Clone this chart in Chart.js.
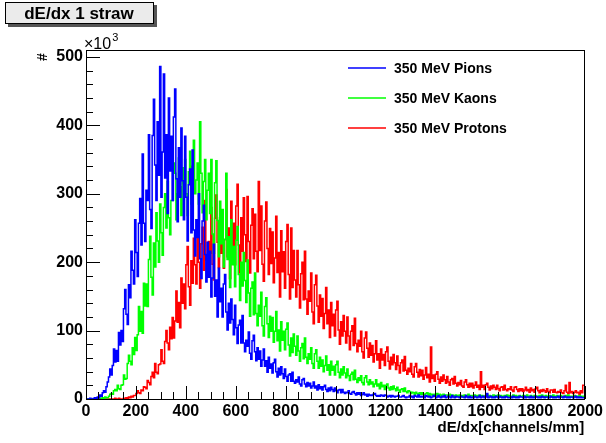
<!DOCTYPE html>
<html>
<head>
<meta charset="utf-8">
<script src="https://cdn.jsdelivr.net/npm/chart.js@4.4.1/dist/chart.umd.min.js"></script>
<style>
  html, body { margin: 0; padding: 0; background: #ffffff; }
  #wrap { width: 606px; height: 443px; position: relative; }
</style>
</head>
<body>
<div id="wrap"><canvas id="c" width="606" height="443"></canvas></div>
<script>
// ---- data (counts in units of 10^3), bins of width 5 from 0 to 2000 ----
const binWidth = 5;
const seriesNames = ["350 MeV Pions", "350 MeV Kaons", "350 MeV Protons"];
const seriesColors = ["#0000ff", "#00ff00", "#ff0000"];
const pions = [
  0,0,0,0,1,0,0,1,2,1,
  3,2,6,4,9,12,10,18,25,32,
  44,35,49,73,54,71,55,97,79,100,
  84,132,160,124,109,167,148,216,188,168,
  262,214,179,257,293,225,358,257,230,305,
  290,386,277,249,385,438,342,290,405,327,
  486,295,361,475,323,386,271,440,333,384,
  290,412,453,322,259,367,295,396,319,262,
  384,295,231,313,336,243,364,247,209,262,
  236,300,205,176,260,283,211,171,229,178,
  216,149,177,226,150,174,120,191,142,162,
  120,168,182,127,101,140,111,146,116,94,
  137,104,81,108,115,82,122,82,69,86,
  77,98,67,58,85,93,69,56,75,58,
  70,48,57,73,48,56,39,61,45,51,
  38,53,58,40,32,45,35,47,37,30,
  44,33,26,35,37,26,39,26,23,28,
  25,32,22,19,28,30,22,18,24,19,
  23,16,19,25,16,19,13,21,15,18,
  13,18,20,14,11,16,12,17,14,11,
  16,12,9,13,14,9,14,10,8,10,
  9,12,8,7,10,11,8,6,9,7,
  9,5,7,9,6,7,4,7,5,6,
  5,7,8,5,4,5,4,6,5,4,
  6,5,3,4,5,3,5,4,3,4,
  4,5,3,3,4,5,3,2,3,3,
  5,3,4,2,5,4,3,6,3,4,
  3,4,2,5,4,3,4,2,3,5,
  4,2,3,5,3,2,4,3,5,2,
  3,4,3,2,5,3,2,4,3,3,
  2,4,3,3,2,5,3,2,4,2,
  3,2,4,3,2,3,5,2,3,4,
  2,3,8,2,3,4,2,3,2,4,
  3,2,4,3,2,3,2,4,3,2,
  2,3,2,4,3,2,3,2,4,3,
  3,2,4,2,3,3,2,4,2,3,
  2,4,3,2,3,2,4,3,2,3,
  3,2,2,4,3,2,3,2,3,4,
  2,3,3,2,4,3,2,3,2,3,
  3,2,3,4,2,3,2,3,2,2
];
const kaons = [
  0,0,0,0,0,0,0,0,0,0,
  0,1,0,1,2,1,3,2,2,4,
  7,8,7,12,14,12,20,15,14,20,
  21,35,29,30,52,64,55,50,75,65,
  90,71,94,135,99,128,96,169,136,168,
  135,204,238,178,152,228,193,272,231,200,
  285,243,210,280,300,250,318,265,240,290,
  290,345,330,262,300,352,310,268,338,315,
  350,300,268,332,362,285,340,378,300,320,
  345,285,405,330,272,318,350,262,305,330,
  271,350,241,213,316,348,261,208,289,227,
  277,193,233,330,204,237,163,262,196,223,
  164,232,252,182,144,200,165,214,173,141,
  203,155,121,162,171,123,184,125,107,137,
  121,156,107,92,135,148,110,90,121,99,
  119,83,99,128,85,101,70,113,86,99,
  72,102,111,79,63,89,68,95,77,64,
  92,70,55,75,81,59,89,61,52,66,
  58,75,52,45,66,72,55,45,61,48,
  57,40,49,63,42,50,35,55,42,48,
  35,50,55,39,31,44,35,47,38,31,
  44,34,27,36,39,28,42,29,24,31,
  27,34,24,21,31,34,25,21,28,22,
  25,18,22,28,19,22,15,24,18,20,
  14,20,22,16,13,18,14,19,15,12,
  17,13,10,14,15,11,16,11,9,12,
  11,8,10,9,7,10,8,6,9,7,
  9,7,6,8,9,5,8,6,7,6,
  7,5,8,6,7,4,6,7,5,6,
  6,5,7,4,6,5,4,6,5,4,
  6,4,5,3,6,5,4,7,4,5,
  5,3,6,4,5,4,6,3,5,4,
  4,5,6,3,5,4,3,6,4,5,
  4,6,3,5,4,3,5,4,6,3,
  5,3,4,6,3,5,4,3,5,4,
  4,5,3,4,6,3,4,5,3,4,
  5,3,4,3,5,4,6,3,4,5,
  3,4,5,3,4,6,3,4,5,3,
  4,5,3,4,3,5,4,6,3,4,
  3,4,5,3,4,3,5,4,3,4
];
const protons = [
  0,0,0,0,0,0,0,0,0,0,
  0,0,0,0,0,0,0,0,0,0,
  0,0,0,0,1,0,0,1,0,0,
  0,1,0,2,1,3,2,4,3,5,
  5,8,12,9,8,13,12,18,17,15,
  27,24,21,33,39,31,52,39,37,50,
  51,72,55,52,84,100,82,72,105,88,
  119,89,114,158,112,141,104,177,140,168,
  132,196,223,164,137,202,169,235,196,168,
  254,200,162,227,251,188,290,203,178,230,
  213,280,197,174,264,298,229,192,265,213,
  270,191,233,306,208,250,176,289,221,257,
  196,282,314,225,184,265,216,294,240,201,
  296,230,184,254,278,205,270,216,186,318,
  217,282,197,172,260,288,220,182,249,198,
  244,170,206,267,185,214,149,246,186,215,
  162,230,255,182,146,250,163,217,174,149,
  217,167,133,183,200,145,216,146,124,158,
  143,184,127,110,167,181,136,112,152,121,
  147,103,125,163,110,130,90,141,107,124,
  92,130,143,101,80,113,92,122,99,82,
  120,92,72,99,107,78,118,81,69,86,
  77,99,69,60,89,98,74,61,82,64,
  78,54,66,85,57,66,45,73,57,65,
  49,69,76,55,44,61,50,65,53,43,
  63,49,38,53,57,41,62,42,36,45,
  40,52,36,32,47,52,39,32,43,34,
  42,29,35,46,31,36,25,76,30,35,
  26,36,40,29,23,32,26,35,28,23,
  33,25,20,28,30,22,33,23,19,24,
  21,27,19,17,25,28,21,17,23,18,
  23,16,20,25,17,20,14,40,17,20,
  14,21,23,17,13,19,15,20,17,14,
  20,15,12,17,18,13,20,14,12,15,
  14,18,13,11,17,18,14,11,15,12,
  15,11,13,17,12,14,10,16,12,14,
  10,15,17,12,9,13,11,14,12,10,
  15,11,9,13,13,10,14,10,9,11,
  10,13,9,8,12,20,10,8,24,9,
  11,8,10,12,9,10,7,12,9,20
];
const xTickValues = [0,200,400,600,800,1000,1200,1400,1600,1800,2000];
const yTickValues = [0,100,200,300,400,500];
const titleText = "dE/dx 1 straw";
const xTitle = "dE/dx[channels/mm]";
const yTitle = "#";
const yMultiplier = "\u00d710";

const FONT = "'Liberation Sans', Arial, Helvetica, sans-serif";

function toSteps(vals) {
  const pts = vals.map((v, i) => ({ x: i * binWidth, y: v }));
  pts.push({ x: vals.length * binWidth, y: vals[vals.length - 1] });
  return pts;
}

const allSeries = [pions, kaons, protons];

const decorPlugin = {
  id: 'decor',
  afterDraw(chart) {
    const ctx = chart.ctx;
    const a = chart.chartArea;
    const xs = chart.scales.x, ys = chart.scales.y;
    ctx.save();
    // frame
    ctx.strokeStyle = '#000';
    ctx.lineWidth = 1;
    ctx.strokeRect(Math.round(a.left) + 0.5, Math.round(a.top) + 0.5,
                   Math.round(a.right - a.left) - 1, Math.round(a.bottom - a.top));
    // y ticks (major every 100, minor every 20)
    ctx.beginPath();
    for (let v = 0; v <= 500; v += 20) {
      const y = Math.round(ys.getPixelForValue(v)) + 0.5;
      const len = (v % 100 === 0) ? 14 : 7;
      ctx.moveTo(a.left, y); ctx.lineTo(a.left + len, y);
    }
    // x ticks (major every 200, minor every 50)
    for (let v = 0; v <= 2000; v += 50) {
      const x = Math.round(xs.getPixelForValue(v)) + 0.5;
      const len = (v % 200 === 0) ? 13 : 7;
      ctx.moveTo(x, a.bottom); ctx.lineTo(x, a.bottom - len);
    }
    ctx.stroke();

    // title box
    ctx.fillStyle = '#555';
    ctx.fillRect(8, 5, 149, 22);
    ctx.fillStyle = '#ebebeb';
    ctx.fillRect(5, 2, 149, 22);
    ctx.strokeStyle = '#000';
    ctx.strokeRect(5.5, 2.5, 148, 21);
    ctx.fillStyle = '#000';
    ctx.font = 'bold 17px ' + FONT;
    ctx.textAlign = 'center';
    ctx.textBaseline = 'middle';
    ctx.fillText(titleText, 79, 14);

    // x10^3
    ctx.textAlign = 'left';
    ctx.textBaseline = 'alphabetic';
    ctx.font = '16px ' + FONT;
    ctx.fillText(yMultiplier, 84, 49);
    const w = ctx.measureText(yMultiplier).width;
    ctx.font = '11px ' + FONT;
    ctx.fillText('3', 84 + w + 1, 41);

    // y title "#" rotated
    ctx.save();
    ctx.translate(43, 57);
    ctx.rotate(-Math.PI / 2);
    ctx.font = 'bold 14px ' + FONT;
    ctx.textAlign = 'center';
    ctx.textBaseline = 'middle';
    ctx.fillText(yTitle, 0, 0);
    ctx.restore();

    // x title
    ctx.font = 'bold 15px ' + FONT;
    ctx.textAlign = 'right';
    ctx.textBaseline = 'middle';
    ctx.fillText(xTitle, a.right - 1, 428);

    // legend
    ctx.font = 'bold 14px ' + FONT;
    ctx.textAlign = 'left';
    ctx.textBaseline = 'middle';
    const ly = [68, 98, 128];
    for (let i = 0; i < seriesNames.length; i++) {
      ctx.strokeStyle = seriesColors[i];
      ctx.lineWidth = 1.5;
      ctx.beginPath();
      ctx.moveTo(348, ly[i]); ctx.lineTo(386, ly[i]);
      ctx.stroke();
      ctx.fillStyle = '#000';
      ctx.fillText(seriesNames[i], 394, ly[i] + 1);
    }
    ctx.restore();
  }
};

new Chart(document.getElementById('c'), {
  type: 'line',
  data: {
    datasets: allSeries.map((s, i) => ({
      label: seriesNames[i],
      data: toSteps(s),
      borderColor: seriesColors[i],
      backgroundColor: seriesColors[i],
      borderWidth: 1.5,
      pointRadius: 0,
      stepped: 'after',
      fill: false,
      tension: 0
    }))
  },
  options: {
    responsive: false,
    animation: false,
    events: [],
    layout: { padding: { left: 0, right: 17, top: 50, bottom: 0 } },
    plugins: { legend: { display: false }, tooltip: { enabled: false }, title: { display: false } },
    scales: {
      x: {
        type: 'linear', min: 0, max: 2000,
        afterFit(s) { s.height = 44; },
        afterBuildTicks(s) { s.ticks = xTickValues.map(v => ({ value: v })); },
        grid: { display: false, drawTicks: false },
        border: { display: false },
        ticks: { color: '#000', font: { family: FONT, size: 16, weight: 'bold' }, padding: 3, maxRotation: 0, autoSkip: false,
                 callback: v => String(v) }
      },
      y: {
        type: 'linear', min: 0, max: 510,
        afterFit(s) { s.width = 86; },
        afterBuildTicks(s) { s.ticks = yTickValues.map(v => ({ value: v })); },
        grid: { display: false, drawTicks: false },
        border: { display: false },
        ticks: { color: '#000', font: { family: FONT, size: 16, weight: 'bold' }, padding: 3,
                 callback: v => String(v) }
      }
    }
  },
  plugins: [decorPlugin]
});
</script>
</body>
</html>
